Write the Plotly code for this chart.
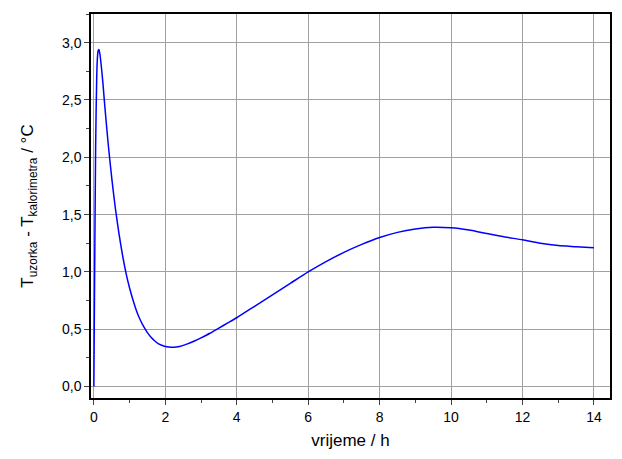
import plotly.graph_objects as go

time_h = [0.0, 0.02, 0.05, 0.08, 0.1, 0.12, 0.14, 0.17, 0.2, 0.25, 0.3, 0.4, 0.5, 0.6, 0.7, 0.8, 0.9, 1.0, 1.1, 1.2, 1.3, 1.4, 1.5, 1.6, 1.7, 1.8, 1.9, 2.0, 2.1, 2.2, 2.3, 2.4, 2.6, 2.8, 3.0, 3.25, 3.5, 3.75, 4.0, 4.5, 5.0, 5.5, 6.0, 6.5, 7.0, 7.5, 8.0, 8.5, 9.0, 9.5, 10.0, 10.5, 11.0, 11.5, 12.0, 12.5, 13.0, 13.5, 14.0]
delta_T = [0.0, 0.9, 2.1, 2.7, 2.87, 2.93, 2.94, 2.9, 2.82, 2.66, 2.47, 2.12, 1.82, 1.56, 1.34, 1.15, 0.99, 0.86, 0.75, 0.655, 0.58, 0.52, 0.47, 0.43, 0.4, 0.375, 0.36, 0.35, 0.345, 0.343, 0.345, 0.35, 0.37, 0.395, 0.425, 0.465, 0.51, 0.555, 0.6, 0.7, 0.8, 0.9, 1.0, 1.09, 1.17, 1.24, 1.3, 1.345, 1.375, 1.39, 1.385, 1.365, 1.335, 1.305, 1.28, 1.25, 1.23, 1.22, 1.21]

fig = go.Figure(go.Scatter(x=time_h, y=delta_T, mode="lines", line=dict(color="#0000ff", width=1.5, shape="spline", smoothing=0.6)))
ax = dict(showline=True, linecolor="black", linewidth=1.5, mirror=True, ticks="outside",
          showgrid=True, gridcolor="#a0a0a0", gridwidth=1, zeroline=False, automargin=False,
          tickfont=dict(size=14, color="black"), title_font=dict(size=17, color="black"),
          minor=dict(ticks="outside", ticklen=3, showgrid=False))
fig.update_xaxes(**ax, range=[-0.08, 14.45], tickvals=list(range(0, 15, 2)), title_text="vrijeme / h", minor_dtick=1, title_standoff=11)
fig.update_yaxes(**ax, range=[-0.1, 3.25], tickvals=[0, 0.5, 1, 1.5, 2, 2.5, 3], ticktext=["0,0", "0,5", "1,0", "1,5", "2,0", "2,5", "3,0"],
                 title_text="T<sub>uzorka</sub> - T<sub>kalorimetra</sub> / °C", minor_dtick=0.25, title_standoff=24)
fig.update_layout(width=614, height=451, plot_bgcolor="white", paper_bgcolor="white", showlegend=False,
                  font=dict(family="Arial, Liberation Sans"), margin=dict(l=83, r=12, t=6, b=61))
fig.write_html("out.html")
